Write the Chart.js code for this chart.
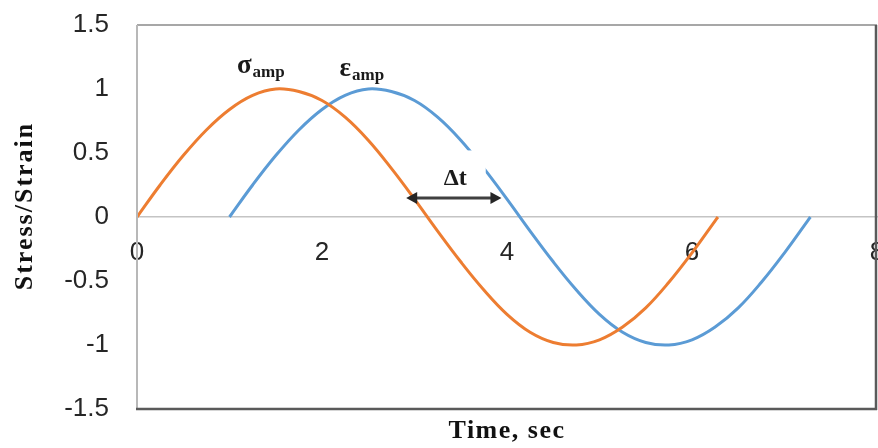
<!DOCTYPE html>
<html>
<head>
<meta charset="utf-8">
<script src="https://cdn.jsdelivr.net/npm/chart.js@4/dist/chart.umd.min.js"></script>
<style>
  html, body { margin: 0; padding: 0; background: #fff; }
  #wrap { width: 878px; height: 448px; }
</style>
</head>
<body>
<div id="wrap"><canvas id="c" width="878" height="448"></canvas></div>
<script>
// Stress response (sec, normalised)
const stressTime  = [0, 0.25, 0.5, 0.75, 1, 1.25, 1.5, 1.75, 2, 2.25, 2.5, 2.75, 3, 3.25, 3.5, 3.75, 4, 4.25, 4.5, 4.75, 5, 5.25, 5.5, 5.75, 6, 6.25, 6.28];
const stressValue = [0, 0.25, 0.48, 0.68, 0.84, 0.95, 1.0, 0.98, 0.91, 0.78, 0.6, 0.38, 0.14, -0.11, -0.35, -0.57, -0.76, -0.9, -0.98, -1.0, -0.96, -0.86, -0.71, -0.51, -0.28, -0.03, 0];

// Strain response, lagging the stress
const strainTime  = [1, 1.25, 1.5, 1.75, 2, 2.25, 2.5, 2.75, 3, 3.25, 3.5, 3.75, 4, 4.25, 4.5, 4.75, 5, 5.25, 5.5, 5.75, 6, 6.25, 6.5, 6.75, 7, 7.25, 7.28];
const strainValue = [0, 0.25, 0.48, 0.68, 0.84, 0.95, 1.0, 0.98, 0.91, 0.78, 0.6, 0.38, 0.14, -0.11, -0.35, -0.57, -0.76, -0.9, -0.98, -1.0, -0.96, -0.86, -0.71, -0.51, -0.28, -0.03, 0];

// Axis ranges and tick steps
const xRange = [0, 8];
const xStep = 2;
const yRange = [-1.5, 1.5];
const yStep = 0.5;

// Curve labels and the phase-lag marker (data units)
const stressLabel = { text: 'σ', sub: 'amp', x: 1.08, y: 1.125 };
const strainLabel = { text: 'ε', sub: 'amp', x: 2.19, y: 1.10 };
const lagLabel = { text: 'Δt', x: 3.44, y: 0.25, box: [3.06, 3.77, 0.52, 0.21] };
const lagArrow = { x0: 2.91, x1: 3.94, y: 0.148 };

const toPoints = (xs, ys) => xs.map((x, i) => ({ x, y: ys[i] }));

const tickFont = { family: "'Liberation Sans Narrow', 'Liberation Sans', Arial, sans-serif", size: 26 };
const serif = "'Liberation Serif', 'Times New Roman', serif";

const frame = {
  id: 'frame',
  afterDatasetsDraw(chart) {
    const { ctx, chartArea: a, scales: { x, y } } = chart;
    ctx.save();

    // Δt label box sits over the curves
    const [bx0, bx1, by0, by1] = lagLabel.box;
    ctx.fillStyle = '#ffffff';
    ctx.fillRect(x.getPixelForValue(bx0), y.getPixelForValue(by0),
                 x.getPixelForValue(bx1) - x.getPixelForValue(bx0),
                 y.getPixelForValue(by1) - y.getPixelForValue(by0));

    ctx.fillStyle = '#1a1a1a';
    ctx.textAlign = 'center';
    ctx.textBaseline = 'alphabetic';
    ctx.font = `bold 24px ${serif}`;
    ctx.fillText(lagLabel.text, x.getPixelForValue(lagLabel.x), y.getPixelForValue(lagLabel.y));

    // double-headed arrow
    const ax0 = x.getPixelForValue(lagArrow.x0), ax1 = x.getPixelForValue(lagArrow.x1);
    const ay = y.getPixelForValue(lagArrow.y);
    const head = 11, half = 6;
    ctx.strokeStyle = '#404040';
    ctx.fillStyle = '#262626';
    ctx.lineWidth = 3;
    ctx.beginPath();
    ctx.moveTo(ax0 + head - 2, ay);
    ctx.lineTo(ax1 - head + 2, ay);
    ctx.stroke();
    ctx.beginPath();
    ctx.moveTo(ax0, ay); ctx.lineTo(ax0 + head, ay - half); ctx.lineTo(ax0 + head, ay + half); ctx.closePath();
    ctx.fill();
    ctx.beginPath();
    ctx.moveTo(ax1, ay); ctx.lineTo(ax1 - head, ay - half); ctx.lineTo(ax1 - head, ay + half); ctx.closePath();
    ctx.fill();

    // σamp / εamp labels with subscripts
    ctx.textAlign = 'left';
    ctx.fillStyle = '#1a1a1a';
    for (const l of [stressLabel, strainLabel]) {
      const px = x.getPixelForValue(l.x), py = y.getPixelForValue(l.y);
      ctx.font = `bold 27px ${serif}`;
      ctx.fillText(l.text, px, py);
      const w = ctx.measureText(l.text).width;
      ctx.font = `bold 17px ${serif}`;
      ctx.fillText(l.sub, px + w + 1, py + 4);
    }

    // plot frame
    ctx.lineCap = 'butt';
    ctx.strokeStyle = '#8a8a8a'; ctx.lineWidth = 1.5;
    ctx.beginPath(); ctx.moveTo(a.left, a.top); ctx.lineTo(a.right, a.top); ctx.stroke();
    ctx.strokeStyle = '#b8b8b8'; ctx.lineWidth = 2;
    ctx.beginPath(); ctx.moveTo(a.left, a.top); ctx.lineTo(a.left, a.bottom); ctx.stroke();
    ctx.strokeStyle = '#5a5a5a'; ctx.lineWidth = 2.5;
    ctx.beginPath(); ctx.moveTo(a.left - 1, a.bottom); ctx.lineTo(a.right, a.bottom); ctx.stroke();
    ctx.beginPath(); ctx.moveTo(a.right - 1, a.top); ctx.lineTo(a.right - 1, a.bottom + 1); ctx.stroke();

    // axis titles
    ctx.fillStyle = '#111111';
    ctx.textAlign = 'center';
    ctx.textBaseline = 'middle';
    ctx.font = `bold 26px ${serif}`;
    ctx.letterSpacing = '1.5px';
    ctx.fillText('Time, sec', (a.left + a.right) / 2, 431);
    ctx.letterSpacing = '2px';
    ctx.translate(25, 206);
    ctx.rotate(-Math.PI / 2);
    ctx.fillText('Stress/Strain', 0, 0);
    ctx.restore();
  }
};

// keep the plot box fixed: no extra room reserved for overhanging tick labels
const noOverhang = (s) => { s.paddingTop = 0; s.paddingBottom = 0; s.paddingLeft = 0; s.paddingRight = 0; };

new Chart(document.getElementById('c'), {
  type: 'line',
  data: {
    datasets: [
      { label: 'Stress', data: toPoints(stressTime, stressValue), borderColor: '#ED7D31', borderWidth: 3, pointRadius: 0, tension: 0.4, fill: false },
      { label: 'Strain', data: toPoints(strainTime, strainValue), borderColor: '#5B9BD5', borderWidth: 3, pointRadius: 0, tension: 0.4, fill: false }
    ]
  },
  options: {
    responsive: false,
    animation: false,
    devicePixelRatio: 1,
    layout: { padding: { left: 0, top: 25, right: 1, bottom: 39 } },
    plugins: { legend: { display: false }, tooltip: { enabled: false } },
    scales: {
      x: {
        type: 'linear',
        position: { y: 0 },
        min: xRange[0], max: xRange[1],
        grid: { display: false, drawTicks: false },
        border: { display: true, color: '#c4c4c4', width: 1.5 },
        ticks: { stepSize: xStep, font: tickFont, color: '#262626', padding: 20, maxRotation: 0 },
        afterFit: noOverhang
      },
      y: {
        min: yRange[0], max: yRange[1],
        grid: { display: false, drawTicks: false },
        border: { display: false },
        ticks: { stepSize: yStep, font: tickFont, color: '#262626', padding: 28, callback: (v) => String(v) },
        afterFit(s) { s.width = 137; noOverhang(s); }
      }
    }
  },
  plugins: [frame]
});
</script>
</body>
</html>
